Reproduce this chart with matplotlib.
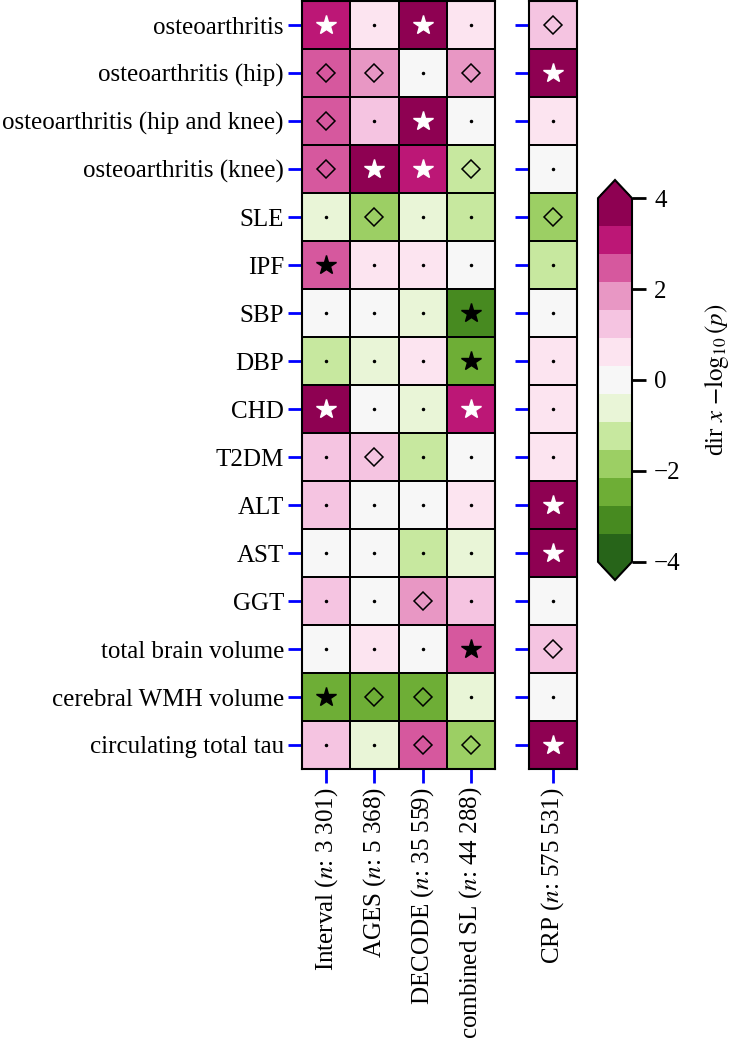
import numpy as np
import matplotlib
matplotlib.use("Agg")
import matplotlib.pyplot as plt
from matplotlib import colors as mcolors

# data: dir x -log10(p) and significance (2 = star, 1 = diamond, 0 = dot)
traits = ["osteoarthritis", "osteoarthritis (hip)", "osteoarthritis (hip and knee)",
          "osteoarthritis (knee)", "SLE", "IPF", "SBP", "DBP", "CHD", "T2DM", "ALT",
          "AST", "GGT", "total brain volume", "cerebral WMH volume", "circulating total tau"]
cohorts = ["Interval ($n$: 3 301)", "AGES ($n$: 5 368)",
           "DECODE ($n$: 35 559)", "combined SL ($n$: 44 288)"]
crp_label = ["CRP ($n$: 575 531)"]

interval = [3.1, 2.5, 2.5, 2.4, -0.6, 2.6, 0.1, -1.2, 4.2, 1.3, 1.2, 0.2, 1.3, 0.1, -2.4, 1.2]
ages = [0.6, 1.8, 1.3, 4.6, -1.9, 0.7, 0.1, -0.7, 0.2, 1.4, 0.1, 0.1, 0.1, 0.7, -2.5, -0.6]
decode = [5.0, 0.1, 4.4, 3.1, -0.6, 0.6, -0.6, 0.6, -0.6, -1.3, 0.1, -1.3, 1.9, 0.1, -2.5, 2.5]
combined = [0.6, 1.9, 0.2, -1.3, -1.2, 0.2, -3.1, -2.5, 3.2, 0.1, 0.6, -0.6, 1.3, 2.6, -0.7, -1.9]
crp = [1.3, 6.0, 0.6, 0.1, -1.9, -1.3, 0.1, 0.6, 0.6, 0.6, 8.0, 7.0, 0.1, 1.4, 0.1, 5.5]

sig_interval = [2, 1, 1, 1, 0, 2, 0, 0, 2, 0, 0, 0, 0, 0, 2, 0]
sig_ages = [0, 1, 0, 2, 1, 0, 0, 0, 0, 1, 0, 0, 0, 0, 1, 0]
sig_decode = [2, 0, 2, 2, 0, 0, 0, 0, 0, 0, 0, 0, 1, 0, 1, 1]
sig_combined = [0, 1, 0, 1, 0, 0, 2, 2, 2, 0, 0, 0, 0, 2, 0, 1]
sig_crp = [1, 2, 0, 0, 1, 0, 0, 0, 0, 0, 2, 2, 0, 1, 0, 2]

plt.rcParams["font.family"] = ["Liberation Serif", "DejaVu Serif"]
plt.rcParams["mathtext.fontset"] = "stix"
plt.rcParams["font.size"] = 18

cmap = matplotlib.colormaps["PiYG_r"].resampled(13)
norm = mcolors.Normalize(vmin=-4, vmax=4)

W, H = 735, 1039
fig = plt.figure(figsize=(W / 100, H / 100), dpi=100)


def px_axes(x0, y0, x1, y1):
    return fig.add_axes([x0 / W, 1 - y1 / H, (x1 - x0) / W, (y1 - y0) / H])


def draw_block(ax, vals, sigs, xlabels, ylabels):
    data = np.array(vals, dtype=float).T
    sig = np.array(sigs).T
    nr, nc = data.shape
    mesh = ax.pcolormesh(np.arange(nc + 1), np.arange(nr + 1), data, cmap=cmap, norm=norm,
                         edgecolors="k", linewidth=1.2)
    ax.set_xlim(0, nc)
    ax.set_ylim(nr, 0)
    for i in range(nr):
        for j in range(nc):
            r, g, b, _ = cmap(norm(np.clip(data[i, j], -4, 4)))
            lum = 0.299 * r + 0.587 * g + 0.114 * b
            mc = "white" if lum < 0.4 and data[i, j] > 0 else "black"
            if sig[i, j] == 2:
                ax.plot(j + 0.5, i + 0.5, marker="*", ms=15, color=mc, mec=mc, ls="")
            elif sig[i, j] == 1:
                ax.plot(j + 0.5, i + 0.5, marker="D", ms=9, mfc="none", mec="black", mew=1.1, ls="")
            else:
                ax.plot(j + 0.5, i + 0.5, marker=".", ms=3, color="black", ls="")
    ax.set_xticks(np.arange(nc) + 0.5)
    ax.set_xticklabels(xlabels, rotation=90)
    ax.set_yticks(np.arange(nr) + 0.5)
    if ylabels is None:
        ax.set_yticklabels([])
    else:
        ax.set_yticklabels(ylabels)
    ax.tick_params(axis="both", color="blue", length=10, width=2, pad=3)
    for s in ax.spines.values():
        s.set_linewidth(1.5)
    return mesh


ax1 = px_axes(302, 1, 495, 769)
mesh = draw_block(ax1, [interval, ages, decode, combined],
                  [sig_interval, sig_ages, sig_decode, sig_combined], cohorts, traits)

ax2 = px_axes(529, 1, 577, 769)
draw_block(ax2, [crp], [sig_crp], crp_label, None)

cax = px_axes(598, 180, 632, 580)
cb = fig.colorbar(mesh, cax=cax, extend="both", ticks=[-4, -2, 0, 2, 4])
cb.outline.set_linewidth(1.5)
cb.ax.tick_params(length=10, width=2, pad=6)
cb.set_label(r"dir $x$ $-\log_{10}(p)$", labelpad=15)

fig.savefig("out.png", dpi=100)
